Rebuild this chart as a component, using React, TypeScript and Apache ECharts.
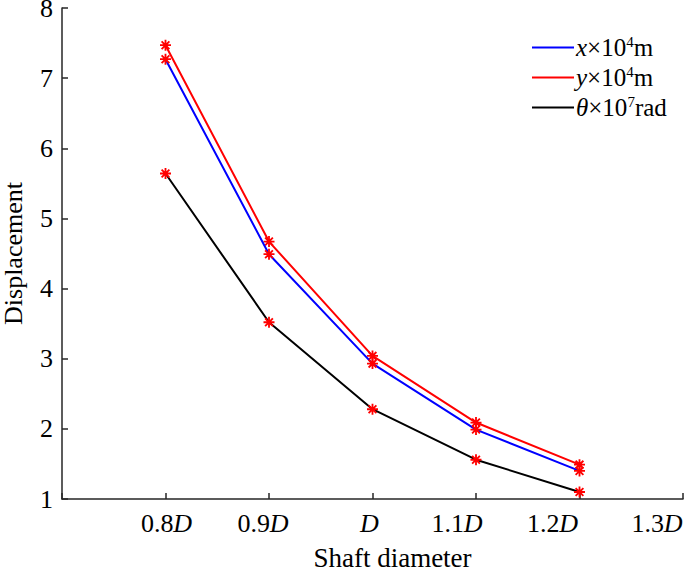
import React, { useEffect, useRef } from "react";
import * as echarts from "echarts";

const xValues = [0.8, 0.9, 1.0, 1.1, 1.2];
const xDisp = [7.27, 4.49, 2.93, 1.99, 1.4];
const yDisp = [7.47, 4.67, 3.04, 2.09, 1.49];
const thetaDisp = [5.64, 3.52, 2.28, 1.56, 1.1];

const seriesNames = ["x", "y", "θ"];
const seriesExponents = ["4", "4", "7"];
const seriesUnits = ["m", "m", "rad"];
const seriesColors = ["#0000ff", "#ff0000", "#000000"];

const xTickLabels = ["", "0.8", "0.9", "", "1.1", "1.2", "1.3"];
const yTicks = [1, 2, 3, 4, 5, 6, 7, 8];

const FONT = "Liberation Serif";
const TICK_FS = 26;

const ASTERISK =
  "path://M-1,-6 L1,-6 L1,6 L-1,6 Z M-6,-1 L6,-1 L6,1 L-6,1 Z " +
  "M-3.53,-4.95 L4.95,3.53 L3.53,4.95 L-4.95,-3.53 Z " +
  "M3.53,-4.95 L4.95,-3.53 L-3.53,4.95 L-4.95,3.53 Z";

// label horizontal shift (px) per tick index, realised through rich padding
const labelShift = [0, 1, -6, -3, -19, -27, -26];

export default function App() {
  const ref = useRef<HTMLDivElement>(null);
  useEffect(() => {
    document.body.style.margin = "0";
    const chart = echarts.init(ref.current!, null, { renderer: "svg" });
    const rich: any = {};
    labelShift.forEach((s, i) => {
      const hasNum = !!xTickLabels[i];
      const left = s > 0 ? 2 * s : 0;
      const right = s < 0 ? -2 * s : 0;
      rich["n" + i] = { fontFamily: FONT, fontSize: TICK_FS, color: "#000", padding: [0, 0, 0, left] };
      rich["d" + i] = {
        fontFamily: FONT,
        fontSize: TICK_FS,
        color: "#000",
        fontStyle: "italic",
        padding: [0, right, 0, hasNum ? 0 : left],
      };
    });
    const datasets = [xDisp, yDisp, thetaDisp];
    const option: any = {
      animation: false,
      backgroundColor: "#ffffff",
      grid: { left: 62, right: 2, top: 8, bottom: 74, containLabel: false, outerBoundsMode: "none" },
      legend: {
        orient: "vertical",
        left: 527,
        top: 29,
        icon: "rect",
        itemWidth: 42,
        itemHeight: 2,
        itemGap: 4,
        data: seriesNames.map((n, i) => ({ name: n, itemStyle: { color: seriesColors[i] } })),
        formatter: (name: string) => {
          const i = seriesNames.indexOf(name);
          return `{i|${name}}{n|×10}{s|${seriesExponents[i]}}{n|${seriesUnits[i]}}`;
        },
        textStyle: {
          fontFamily: FONT,
          fontSize: 25,
          color: "#000",
          padding: [0, 0, 0, -3],
          rich: {
            i: { fontFamily: FONT, fontSize: 25, fontStyle: "italic", color: "#000", lineHeight: 27 },
            n: { fontFamily: FONT, fontSize: 25, color: "#000", lineHeight: 27 },
            s: { fontFamily: FONT, fontSize: 15, color: "#000", verticalAlign: "top", lineHeight: 27, padding: [0, 0, 8, 0] },
          },
        },
      },
      xAxis: {
        type: "value",
        min: 0.7,
        max: 1.3,
        interval: 0.1,
        name: "Shaft diameter",
        nameLocation: "middle",
        nameGap: 45,
        nameTextStyle: { fontFamily: FONT, fontSize: 27, color: "#000", padding: [0, 0, 0, 40] },
        axisLine: { lineStyle: { color: "#262626", width: 1.5 } },
        axisTick: { inside: true, length: 6, lineStyle: { color: "#262626", width: 1.5 } },
        splitLine: { show: false },
        axisLabel: {
          margin: 11,
          fontFamily: FONT,
          fontSize: TICK_FS,
          color: "#000",
          formatter: (v: number) => {
            const idx = Math.round(v * 10) - 7;
            if (idx <= 0) return "";
            const t = xTickLabels[idx];
            return t ? `{n${idx}|${t}}{d${idx}|D}` : `{d${idx}|D}`;
          },
          rich,
        },
      },
      yAxis: {
        type: "value",
        min: yTicks[0],
        max: yTicks[yTicks.length - 1],
        interval: 1,
        name: "Displacement",
        nameLocation: "middle",
        nameGap: 36,
        nameTextStyle: { fontFamily: FONT, fontSize: 26, color: "#000" },
        axisLine: { show: true, lineStyle: { color: "#262626", width: 1.5 } },
        axisTick: { show: true, inside: true, length: 6, lineStyle: { color: "#262626", width: 1.5 } },
        splitLine: { show: false },
        axisLabel: {
          margin: 9,
          fontFamily: FONT,
          fontSize: TICK_FS,
          lineHeight: 20,
          padding: [6, 0, 0, 0],
          color: "#000",
        },
      },
      series: seriesNames.map((n, i) => ({
        name: n,
        type: "line",
        data: xValues.map((x, k) => [x, datasets[i][k]]),
        symbol: ASTERISK,
        symbolSize: 11,
        showSymbol: true,
        lineStyle: { color: seriesColors[i], width: 2 },
        itemStyle: { color: "#ff0000", borderWidth: 0 },
        z: 3 - i,
      })),
    };
    chart.setOption(option);
    return () => chart.dispose();
  }, []);
  return <div ref={ref} style={{ position: "fixed", left: 0, top: 0, width: 685, height: 573 }} />;
}
